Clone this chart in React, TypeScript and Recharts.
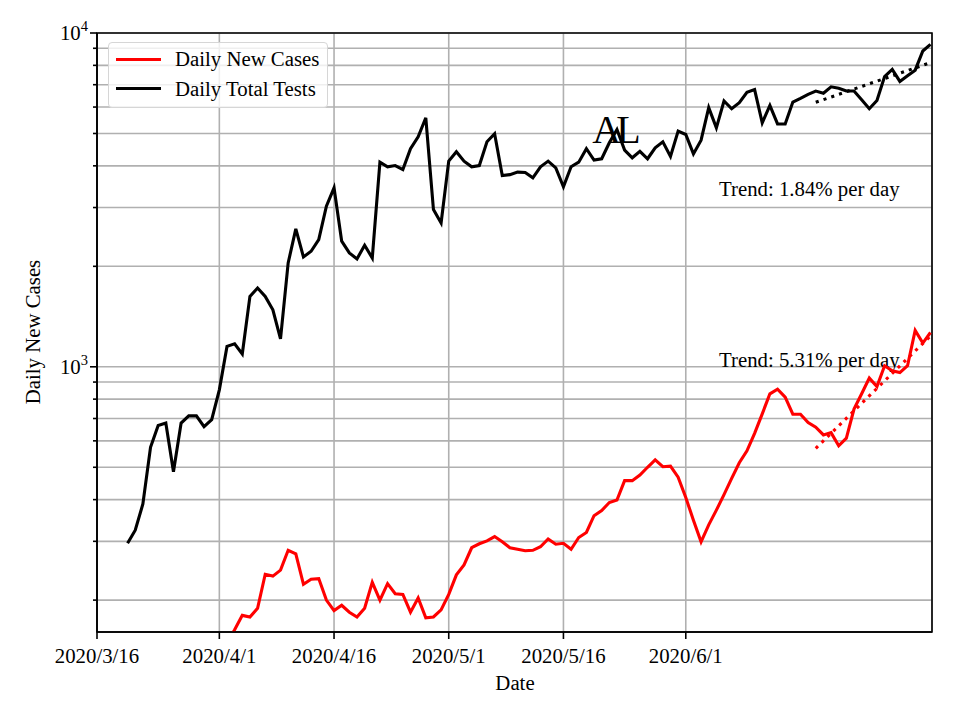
import {
  LineChart,
  Line,
  XAxis,
  YAxis,
  CartesianGrid,
  ReferenceArea,
} from "recharts";

// day 0 = 2020/3/16
const X_TICKS = [0, 16, 31, 46, 61, 77];
const X_TICK_LABELS = ["2020/3/16", "2020/4/1", "2020/4/16", "2020/5/1", "2020/5/16", "2020/6/1"];
const Y_TICKS = [200, 300, 400, 500, 600, 700, 800, 900, 1000, 2000, 3000, 4000, 5000, 6000, 7000, 8000, 9000, 10000];

const TESTS_START = 4;
const TESTS = [
  296, 324, 388, 574, 667, 678, 485, 678, 713, 713, 662, 694, 853, 1151, 1172, 1092,
  1625, 1722, 1625, 1482, 1213, 2047, 2588, 2133, 2219, 2404, 3027, 3435, 2378, 2194,
  2105, 2312, 2118, 4103, 3974, 4009, 3900, 4500, 4890, 5572, 2957, 2698, 4132, 4407,
  4132, 3974, 4009, 4722, 4990, 3740, 3765, 3830, 3822, 3683, 3974, 4132, 3945, 3460,
  3974, 4103, 4500, 4160, 4200, 4690, 5137, 4460, 4228, 4420, 4200, 4530, 4722, 4270,
  5081, 4964, 4343, 4775, 5975, 5197, 6256, 5929, 6180, 6643, 6770, 5383, 6070, 5340,
  5340, 6210, 6370, 6550, 6700, 6600, 6900, 6830, 6700, 6700, 6310, 5929, 6280, 7400,
  7780, 7160, 7450, 7740, 8830, 9250,
];

const CASES_START = 17;
const CASES = [
  149, 163, 180, 178, 189, 239, 236, 246, 282, 275, 223, 231, 232, 200, 186, 193, 184,
  178, 189, 226, 200, 224, 209, 208, 184, 203, 177, 178, 187, 208, 238, 255, 287, 295,
  301, 310, 299, 287, 284, 281, 282, 289, 305, 294, 296, 284, 308, 319, 358, 371, 392,
  399, 456, 456, 474, 500, 526, 502, 504, 467, 406, 347, 299, 336, 372, 414, 463, 516,
  560, 632, 723, 830, 857, 811, 721, 721, 681, 659, 625, 635, 580, 611, 747, 830, 925,
  873, 1007, 973, 961, 1007, 1285, 1178, 1267,
];

const TREND_DAYS = [94, 109];
const TESTS_TREND = [6200, 8150];
const CASES_TREND = [570, 1237];

const X_MAX = 109.2;
const Y_MIN = 160.5;
const Y_MAX = 10000;

const FONT = "'Liberation Serif', 'DejaVu Serif', serif";
const FS = 20.8;

const testsData = TESTS.map((v, i) => ({ day: TESTS_START + i, v }));
const casesData = CASES.map((v, i) => ({ day: CASES_START + i, v }));
const testsTrend = TREND_DAYS.map((day, i) => ({ day, v: TESTS_TREND[i] }));
const casesTrend = TREND_DAYS.map((day, i) => ({ day, v: CASES_TREND[i] }));

const YTick = (props: any) => {
  const { x, y, payload } = props;
  const v = payload.value as number;
  const exp = Math.round(Math.log10(v));
  const major = Math.abs(v - Math.pow(10, exp)) < 1e-6;
  return (
    <g>
      <line x1={x - (major ? 7 : 4)} x2={x} y1={y} y2={y} stroke="#000" strokeWidth={1.6} />
      {major && (
        <text x={x - 9} y={y + 7} textAnchor="end" fontFamily={FONT} fontSize={FS} fill="#000">
          <tspan>10</tspan>
          <tspan dy={-9} fontSize={14.5}>{exp}</tspan>
        </text>
      )}
    </g>
  );
};

export default function App() {
  return (
    <div style={{ position: "relative", width: 960, height: 720, background: "#fff" }}>
      <style>{`body{margin:0}`}</style>
      <LineChart width={960} height={720} margin={{ top: 33, right: 28, left: 0, bottom: 0 }}>
        <CartesianGrid stroke="#b0b0b0" strokeWidth={1.6} />
        <XAxis
          dataKey="day"
          type="number"
          domain={[0, X_MAX]}
          ticks={X_TICKS}
          allowDataOverflow
          height={88}
          tickSize={7}
          tickMargin={9}
          tickLine={{ stroke: "#000", strokeWidth: 1.6 }}
          axisLine={{ stroke: "#000", strokeWidth: 1.6 }}
          tick={{ fill: "#000", fontSize: FS, fontFamily: FONT }}
          tickFormatter={(v: number) => X_TICK_LABELS[X_TICKS.indexOf(v)] ?? ""}
        />
        <YAxis
          type="number"
          scale="log"
          domain={[Y_MIN, Y_MAX]}
          ticks={Y_TICKS}
          allowDataOverflow
          width={97}
          tickSize={0}
          tickMargin={0}
          tickLine={false}
          axisLine={{ stroke: "#000", strokeWidth: 1.6 }}
          tick={<YTick />}
          interval={0}
        />
        <Line data={casesData} dataKey="v" stroke="#ff0000" strokeWidth={3.1} dot={false} isAnimationActive={false} />
        <Line data={testsData} dataKey="v" stroke="#000000" strokeWidth={3.1} dot={false} isAnimationActive={false} />
        <Line
          data={testsTrend}
          dataKey="v"
          stroke="#000000"
          strokeWidth={3.1}
          strokeDasharray="3.1 5.1"
          dot={false}
          isAnimationActive={false}
        />
        <Line
          data={casesTrend}
          dataKey="v"
          stroke="#ff0000"
          strokeWidth={3.1}
          strokeDasharray="3.1 5.1"
          dot={false}
          isAnimationActive={false}
        />
        <ReferenceArea x1={0} x2={X_MAX} y1={Y_MIN} y2={Y_MAX} fill="none" stroke="#000" strokeWidth={1.6} ifOverflow="visible" />
        <text x={614} y={143} textAnchor="middle" fontFamily={FONT} fontSize={40} letterSpacing={-5} fill="#000">
          AL
        </text>
        <text x={719} y={196} fontFamily={FONT} fontSize={FS} fill="#000">
          Trend: 1.84% per day
        </text>
        <text x={719} y={367} fontFamily={FONT} fontSize={FS} fill="#000">
          Trend: 5.31% per day
        </text>
        <text x={515} y={690} textAnchor="middle" fontFamily={FONT} fontSize={FS} fill="#000">
          Date
        </text>
        <text
          transform="translate(40,332) rotate(-90)"
          textAnchor="middle"
          fontFamily={FONT}
          fontSize={FS}
          fill="#000"
        >
          Daily New Cases
        </text>
      </LineChart>
      <div
        style={{
          position: "absolute",
          left: 108,
          top: 42,
          width: 220,
          height: 66,
          boxSizing: "border-box",
          border: "1.5px solid #d6d6d6",
          borderRadius: 4,
          background: "rgba(255,255,255,0.8)",
          fontFamily: FONT,
          fontSize: FS,
          color: "#000",
        }}
      >
        {[
          { label: "Daily New Cases", color: "#ff0000", cy: 16.3 },
          { label: "Daily Total Tests", color: "#000000", cy: 45.7 },
        ].map((r) => (
          <div key={r.label}>
            <div
              style={{ position: "absolute", left: 7, top: r.cy - 1.5, width: 45, height: 3, background: r.color }}
            />
            <div style={{ position: "absolute", left: 66, top: r.cy - 13, lineHeight: "26px", whiteSpace: "nowrap" }}>
              {r.label}
            </div>
          </div>
        ))}
      </div>
    </div>
  );
}
